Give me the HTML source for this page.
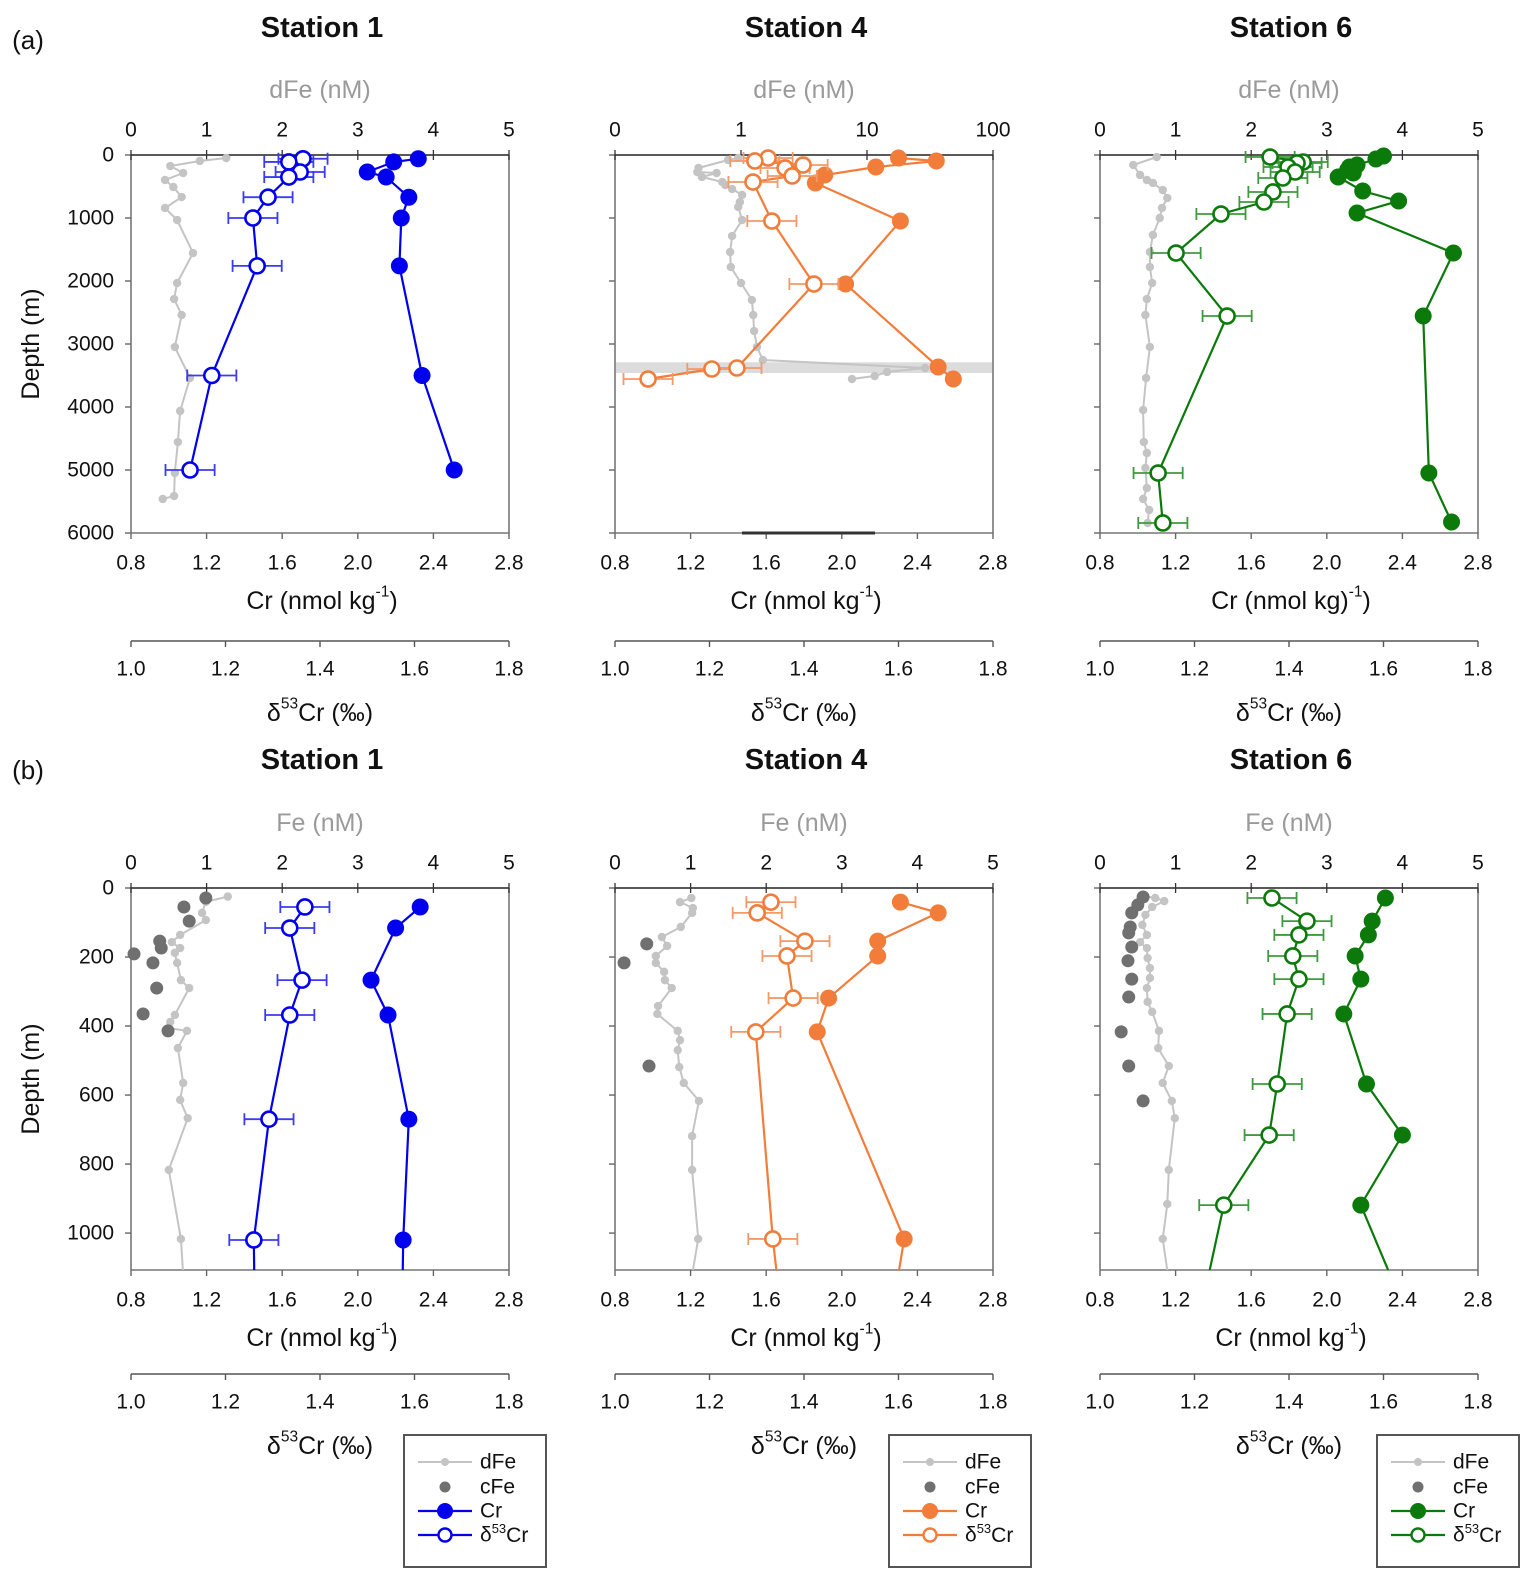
<!DOCTYPE html>
<html><head><meta charset="utf-8"><title>Cr and Fe depth profiles</title>
<style>html,body{margin:0;padding:0;background:#fff}svg{display:block;font-family:"Liberation Sans",Arial,sans-serif}</style>
</head><body>
<svg id="chart" width="1535" height="1576" viewBox="0 0 1535 1576" xmlns="http://www.w3.org/2000/svg"></svg>
<script>
// ---------- DATA ----------
// Panel (a) Station 1
const a1_crDep=[60,110,270,350,670,1000,1760,3500,5000];
const a1_cr=[2.32,2.19,2.05,2.15,2.27,2.23,2.22,2.34,2.51];
const a1_d53Dep=[60,110,270,350,670,1000,1760,3500,5000];
const a1_d53=[1.364,1.334,1.358,1.334,1.29,1.258,1.267,1.171,1.125];
const a1_feDep=[48,95,175,286,397,508,667,841,1032,1556,2032,2286,2540,3048,3540,4063,4556,5048,5413,5460];
const a1_fe=[1.26,0.91,0.52,0.69,0.45,0.56,0.67,0.45,0.61,0.82,0.61,0.57,0.67,0.58,0.78,0.65,0.62,0.58,0.57,0.42];
// Panel (a) Station 4
const a4_crDep=[48,95,190,317,444,1048,2048,3365,3556];
const a4_cr=[2.30,2.50,2.18,1.91,1.86,2.31,2.02,2.51,2.59];
const a4_d53Dep=[48,95,159,206,333,429,1048,2048,3381,3397,3556];
const a4_d53=[1.324,1.296,1.398,1.360,1.375,1.292,1.332,1.421,1.258,1.205,1.070];
const a4_feDep=[48,79,206,270,286,349,429,476,540,635,746,825,1032,1286,1540,1778,2032,2302,2540,2794,3048,3254,3381,3444,3508,3556];
const a4_fe=[0.95,0.79,0.46,0.45,0.64,0.49,0.71,0.75,0.85,1.02,0.98,0.95,1.02,0.85,0.82,0.83,1.0,1.22,1.25,1.27,1.34,1.49,28.9,14.4,11.5,7.6];
// Panel (a) Station 6
const a6_crDep=[16,63,159,190,238,286,349,571,730,921,1556,2556,5048,5825];
const a6_cr=[2.30,2.26,2.16,2.12,2.11,2.14,2.06,2.19,2.38,2.16,2.67,2.51,2.54,2.66];
const a6_d53Dep=[32,111,127,190,270,365,587,746,937,1556,2556,5048,5841];
const a6_d53=[1.360,1.430,1.417,1.398,1.413,1.387,1.366,1.347,1.256,1.161,1.269,1.123,1.133];
const a6_feDep=[32,159,317,397,444,556,683,841,1000,1270,1540,1778,2032,2286,2540,3048,3540,4048,4556,4730,4968,5286,5460,5635,5841];
const a6_fe=[0.75,0.44,0.53,0.62,0.70,0.83,0.89,0.82,0.79,0.70,0.66,0.66,0.69,0.62,0.60,0.66,0.61,0.57,0.58,0.62,0.60,0.62,0.57,0.65,0.63];
// Panel (b) Station 1
const b1_crDep=[55,116,267,368,670,1020,1760];
const b1_cr=[2.33,2.20,2.07,2.16,2.27,2.24,2.22];
const b1_d53Dep=[55,116,267,368,670,1020,1760];
const b1_d53=[1.368,1.336,1.362,1.336,1.292,1.260,1.267];
const b1_feDep=[25,40,72,93,136,157,174,188,217,267,290,368,388,406,414,464,565,614,667,817,1017,1122];
const b1_fe=[1.28,0.99,0.94,0.99,0.65,0.54,0.65,0.58,0.61,0.66,0.77,0.58,0.52,0.50,0.74,0.62,0.69,0.65,0.75,0.50,0.66,0.69];
const b1_cfeDep=[29,55,96,154,174,191,217,290,365,414];
const b1_cfe=[0.99,0.70,0.77,0.38,0.40,0.04,0.29,0.34,0.16,0.49];
// Panel (b) Station 4
const b4_crDep=[41,72,154,197,319,417,1017,2048];
const b4_cr=[2.31,2.51,2.19,2.19,1.93,1.87,2.33,2.02];
const b4_d53Dep=[41,72,154,197,319,417,1017,2048];
const b4_d53=[1.330,1.301,1.402,1.364,1.377,1.298,1.334,1.421];
const b4_feDep=[29,41,58,72,113,142,168,197,217,243,267,290,342,365,414,441,470,519,565,617,719,817,1017,1122];
const b4_fe=[1.01,0.86,1.03,1.02,0.87,0.62,0.69,0.54,0.54,0.65,0.66,0.75,0.57,0.56,0.83,0.86,0.83,0.85,0.91,1.11,1.02,1.02,1.10,1.02];
const b4_cfeDep=[162,217,516];
const b4_cfe=[0.42,0.12,0.45];
// Panel (b) Station 6
const b6_crDep=[29,96,136,197,264,365,568,716,919,1556];
const b6_cr=[2.31,2.24,2.22,2.15,2.18,2.09,2.21,2.40,2.18,2.67];
const b6_d53Dep=[29,96,136,197,264,365,568,716,919,1556];
const b6_d53=[1.364,1.438,1.421,1.408,1.421,1.396,1.375,1.358,1.262,1.161];
const b6_feDep=[23,29,38,55,78,107,136,157,174,203,232,261,290,330,359,414,464,516,565,617,667,817,916,1017,1122];
const b6_fe=[0.57,0.73,0.85,0.69,0.60,0.56,0.62,0.53,0.62,0.63,0.66,0.66,0.62,0.63,0.69,0.78,0.77,0.91,0.83,0.95,0.99,0.91,0.89,0.83,0.90];
const b6_cfeDep=[26,49,72,113,130,171,211,264,316,417,516,617];
const b6_cfe=[0.57,0.50,0.42,0.40,0.38,0.42,0.37,0.42,0.38,0.28,0.38,0.57];
// Axis tick labels
const crTicks=[0.8,1.2,1.6,2.0,2.4,2.8];
const d53Ticks=[1.0,1.2,1.4,1.6,1.8];
const feTicks=[0,1,2,3,4,5];
const feLogTicks=[0.1,1,10,100];
const feLogLabels=["0","1","10","100"];
const depthTicksA=[0,1000,2000,3000,4000,5000,6000];
const depthTicksB=[0,200,400,600,800,1000];
const d53Err=0.052;
const stationNames=["Station 1","Station 4","Station 6"];

// ---------- RENDER ----------
const NS="http://www.w3.org/2000/svg";
const svg=document.getElementById('chart');
function mk(tag,attrs,name,parent){
  const el=document.createElementNS(NS,tag);
  for(const k in attrs) el.setAttribute(k,attrs[k]);
  
  
  (parent||svg).appendChild(el);
  return el;
}
function txt(x,y,s,size,name,opts){
  opts=opts||{};
  const t=mk('text',{x:x,y:y,'font-size':size,'text-anchor':opts.anchor||'middle','dominant-baseline':'central',fill:opts.fill||'#111','font-weight':opts.bold?'bold':'normal'},name,opts.parent);
  if(opts.rot) t.setAttribute('transform','rotate(-90 '+x+' '+y+')');
  t.textContent=s;
  return t;
}
function supTxt(x,y,parts,size,name){
  const t=mk('text',{x:x,y:y,'font-size':size,'text-anchor':'middle','dominant-baseline':'central',fill:'#111'},name);
  parts.forEach(p=>{
    const ts=document.createElementNS(NS,'tspan');
    if(p[1]){ts.setAttribute('font-size',size*0.62);ts.setAttribute('dy',-size*0.38);}
    else if(p[2]){ts.setAttribute('dy',size*0.38);}
    ts.textContent=p[0];
    t.appendChild(ts);
  });
  return t;
}
const W=378;
const xCr=(v,x0)=>x0+(v-0.8)*W/2;
const xD=(v,x0)=>x0+(v-1.0)*W/0.8;
const xFe=(v,x0)=>x0+v*W/5;
const xFeLog=(v,x0)=>x0+(Math.log10(v)+1)*W/3;

const GREY='#c4c4c4', DGREY='#707070';
const panelsX=[131,615,1100];
const colors=['#0000ee','#f27d3a','#0b7a0b'];
const errColors=['#3b3bf0','#f29a68','#3e9a3e'];

function pathD(xs,ys){return xs.map((x,i)=>(i?'L':'M')+x.toFixed(1)+' '+ys[i].toFixed(1)).join(' ');}

function drawPanel(cfg){
  const x0=cfg.x0, top=cfg.top, bot=cfg.bot, yS=d=>top+d*(bot-top)/cfg.dmax;
  const g=mk('g',{},cfg.id);
  const clipId='clip-'+cfg.id;
  const cp=mk('clipPath',{id:clipId},'clip-'+cfg.id,g);
  mk('rect',{x:x0-12,y:top-12,width:W+24,height:bot-top+12},'clip-rect',cp);
  mk('line',{x1:x0,y1:top,x2:x0,y2:bot,stroke:'#777','stroke-width':1.6},'left-axis-line',g);
  mk('line',{x1:x0+W,y1:top,x2:x0+W,y2:bot,stroke:'#777','stroke-width':1.6},'right-axis-line',g);
  mk('line',{x1:x0,y1:bot,x2:x0+W,y2:bot,stroke:'#777','stroke-width':1.6},'bottom-axis-line',g);
  mk('line',{x1:x0,y1:top,x2:x0+W,y2:top,stroke:'#222','stroke-width':1.6},'top-axis-line',g);
  cfg.dticks.forEach(d=>{
    const y=yS(d);
    mk('line',{x1:x0-6,y1:y,x2:x0,y2:y,stroke:'#666','stroke-width':1.4},'depth-tick',g);
    if(cfg.showDepthLabels) txt(x0-17,y,String(d),21,'depth-tick-label',{anchor:'end'});
  });
  crTicks.forEach(v=>{
    const x=xCr(v,x0);
    mk('line',{x1:x,y1:bot,x2:x,y2:bot+6,stroke:'#666','stroke-width':1.4},'cr-tick',g);
    txt(x,bot+30,v.toFixed(1),21,'cr-tick-label');
  });
  if(cfg.log){
    feLogTicks.forEach((v,i)=>{
      const x=xFeLog(v,x0);
      mk('line',{x1:x,y1:top-5,x2:x,y2:top+5,stroke:'#333','stroke-width':1.3},'fe-tick',g);
      txt(x,top-25,feLogLabels[i],21,'fe-tick-label');
    });
  } else {
    feTicks.forEach(v=>{
      const x=xFe(v,x0);
      mk('line',{x1:x,y1:top-5,x2:x,y2:top+5,stroke:'#333','stroke-width':1.3},'fe-tick',g);
      txt(x,top-25,String(v),21,'fe-tick-label');
    });
  }
  txt(x0+W/2,top-65,cfg.feTitle,25,'fe-axis-title',{fill:'#9a9a9a'});
  if(cfg.oddCr) supTxt(x0+W/2+2,bot+68,[['Cr (nmol kg)'],['-1',1],[')',0,1]],25,'cr-axis-title');
  else supTxt(x0+W/2+2,bot+68,[['Cr (nmol kg'],['-1',1],[')',0,1]],25,'cr-axis-title');
  const dy=cfg.dAxisY;
  mk('line',{x1:x0,y1:dy,x2:x0+W,y2:dy,stroke:'#555','stroke-width':1.6},'d53-axis-line',g);
  d53Ticks.forEach(v=>{
    const x=xD(v,x0);
    mk('line',{x1:x,y1:dy,x2:x,y2:dy+6,stroke:'#555','stroke-width':1.4},'d53-tick',g);
    txt(x,dy+28,v.toFixed(1),21,'d53-tick-label');
  });
  supTxt(x0+W/2,dy+72,[['δ'],['53',1],['Cr (‰)',0,1]],25,'d53-axis-title');
  txt(x0+W/2+2,cfg.titleY,cfg.name,29,'station-title',{bold:true});

  const pg=mk('g',{'clip-path':'url(#'+clipId+')'},'plot-area',g);
  if(cfg.band){
    mk('rect',{x:x0+1,y:yS(cfg.band[0]),width:W-2,height:yS(cfg.band[1])-yS(cfg.band[0]),fill:'#dcdcdc'},'hydrothermal-band',pg);
  }
  const fx=cfg.log?(v=>xFeLog(v,x0)):(v=>xFe(v,x0));
  const fxs=cfg.fe.map(fx), fys=cfg.feDep.map(yS);
  mk('path',{d:pathD(fxs,fys),fill:'none',stroke:GREY,'stroke-width':2},'dfe-line',pg);
  fxs.forEach((x,i)=>mk('circle',{cx:x,cy:fys[i],r:4.2,fill:GREY},'dfe-point',pg));
  if(cfg.cfe) cfg.cfe.forEach((v,i)=>mk('circle',{cx:fx(v),cy:yS(cfg.cfeDep[i]),r:6.5,fill:DGREY},'cfe-point',pg));
  const col=cfg.color;
  const cxs=cfg.cr.map(v=>xCr(v,x0)), cys=cfg.crDep.map(yS);
  mk('path',{d:pathD(cxs,cys),fill:'none',stroke:col,'stroke-width':2.2},'cr-line',pg);
  cxs.forEach((x,i)=>mk('circle',{cx:x,cy:cys[i],r:8.5,fill:col},'cr-point',pg));
  const dxs=cfg.d53.map(v=>xD(v,x0)), dys=cfg.d53Dep.map(yS);
  mk('path',{d:pathD(dxs,dys),fill:'none',stroke:col,'stroke-width':2.2},'d53-line',pg);
  cfg.d53.forEach((v,i)=>{
    const y=dys[i], xl=xD(v-d53Err,x0), xr=xD(v+d53Err,x0);
    mk('path',{d:`M${xl} ${y} L${xr} ${y} M${xl} ${y-6} L${xl} ${y+6} M${xr} ${y-6} L${xr} ${y+6}`,stroke:cfg.errColor,'stroke-width':1.8,fill:'none'},'d53-error-bar',pg);
  });
  dxs.forEach((x,i)=>mk('circle',{cx:x,cy:dys[i],r:7.5,fill:'#fff',stroke:col,'stroke-width':2.6},'d53-point',pg));
  if(cfg.artifact) mk('line',{x1:cfg.artifact[0],y1:bot,x2:cfg.artifact[1],y2:bot,stroke:'#333','stroke-width':3},'axis-artifact',g);
}

const aData=[[a1_crDep,a1_cr,a1_d53Dep,a1_d53,a1_feDep,a1_fe],[a4_crDep,a4_cr,a4_d53Dep,a4_d53,a4_feDep,a4_fe],[a6_crDep,a6_cr,a6_d53Dep,a6_d53,a6_feDep,a6_fe]];
const bData=[[b1_crDep,b1_cr,b1_d53Dep,b1_d53,b1_feDep,b1_fe,b1_cfeDep,b1_cfe],[b4_crDep,b4_cr,b4_d53Dep,b4_d53,b4_feDep,b4_fe,b4_cfeDep,b4_cfe],[b6_crDep,b6_cr,b6_d53Dep,b6_d53,b6_feDep,b6_fe,b6_cfeDep,b6_cfe]];
for(let i=0;i<3;i++){
  const A=aData[i];
  drawPanel({id:'panel-a-station-'+(i+1),x0:panelsX[i],top:155,bot:533,dmax:6000,dticks:depthTicksA,showDepthLabels:i===0,
    log:i===1,feTitle:'dFe (nM)',oddCr:i===2,dAxisY:641,titleY:28,name:stationNames[i],color:colors[i],errColor:errColors[i],
    crDep:A[0],cr:A[1],d53Dep:A[2],d53:A[3],feDep:A[4],fe:A[5],band:i===1?[3290,3460]:null,artifact:i===1?[742,875]:null});
  const B=bData[i];
  drawPanel({id:'panel-b-station-'+(i+1),x0:panelsX[i],top:888,bot:1270,dmax:1107,dticks:depthTicksB,showDepthLabels:i===0,
    log:false,feTitle:'Fe (nM)',oddCr:false,dAxisY:1374,titleY:760,name:stationNames[i],color:colors[i],errColor:errColors[i],
    crDep:B[0],cr:B[1],d53Dep:B[2],d53:B[3],feDep:B[4],fe:B[5],cfeDep:B[6],cfe:B[7]});
}
txt(28,40,'(a)',26,'panel-a-label');
txt(28,770,'(b)',26,'panel-b-label');
txt(31,344,'Depth (m)',25,'y-axis-title-a',{rot:true});
txt(31,1079,'Depth (m)',25,'y-axis-title-b',{rot:true});

const legendX=[404,889,1377];
legendX.forEach((lx,i)=>{
  const lg=mk('g',{},'legend-station-'+[1,4,6][i]);
  mk('rect',{x:lx,y:1435,width:142,height:132,fill:'#fff',stroke:'#555','stroke-width':2},'legend-box',lg);
  const ys=[1462,1487,1511,1535];
  const l1=lx+14,l2=lx+68,lm=lx+41,tx=lx+76;
  mk('line',{x1:l1,y1:ys[0],x2:l2,y2:ys[0],stroke:GREY,'stroke-width':2},'legend-dfe-line',lg);
  mk('circle',{cx:lm,cy:ys[0],r:4,fill:GREY},'legend-dfe-marker',lg);
  mk('circle',{cx:lm,cy:ys[1],r:5.5,fill:DGREY},'legend-cfe-marker',lg);
  mk('line',{x1:l1,y1:ys[2],x2:l2,y2:ys[2],stroke:colors[i],'stroke-width':2.2},'legend-cr-line',lg);
  mk('circle',{cx:lm,cy:ys[2],r:8,fill:colors[i]},'legend-cr-marker',lg);
  mk('line',{x1:l1,y1:ys[3],x2:l2,y2:ys[3],stroke:colors[i],'stroke-width':2.2},'legend-d53-line',lg);
  mk('circle',{cx:lm,cy:ys[3],r:6.5,fill:'#fff',stroke:colors[i],'stroke-width':2.4},'legend-d53-marker',lg);
  txt(tx,ys[0],'dFe',21,'legend-dfe-label',{anchor:'start',parent:lg});
  txt(tx,ys[1],'cFe',21,'legend-cfe-label',{anchor:'start',parent:lg});
  txt(tx,ys[2],'Cr',21,'legend-cr-label',{anchor:'start',parent:lg});
  const t=mk('text',{x:tx,y:ys[3],'font-size':21,'dominant-baseline':'central',fill:'#111'},'legend-d53-label',lg);
  t.innerHTML='δ<tspan font-size="13" dy="-7">53</tspan><tspan dy="7">Cr</tspan>';
});
</script>
</body></html>
